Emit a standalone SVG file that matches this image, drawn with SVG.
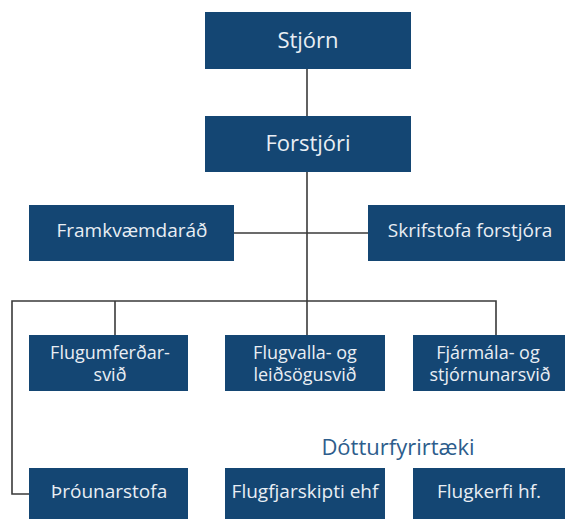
<svg xmlns="http://www.w3.org/2000/svg" width="565" height="519" viewBox="0 0 565 519">
<style>
.box{fill:#144673;}
.t{font-family:"Open Sans","Liberation Sans",sans-serif;fill:#e9eef4;text-anchor:middle;font-size:19px;}
.big{font-size:22px;}
.two{font-size:18px;}
.con{stroke:#3a3a3a;stroke-width:1.6;fill:none;}
.lbl{font-family:"Open Sans","Liberation Sans",sans-serif;fill:#2d5d8c;text-anchor:middle;font-size:22px;}
</style>
<rect width="565" height="519" fill="#ffffff"/>
<g id="connectors">
<line class="con" x1="307" y1="69" x2="307" y2="116"/>
<line class="con" x1="307" y1="172" x2="307" y2="335"/>
<line class="con" x1="233" y1="233" x2="368" y2="233"/>
<polyline class="con" points="29,494 12,494 12,301 496,301 496,335"/>
<line class="con" x1="115" y1="301" x2="115" y2="335"/>
</g>
<g id="stjorn"><rect class="box" x="205" y="12" width="206" height="57"/><text class="t big" x="308" y="48">Stjórn</text></g>
<g id="forstjori"><rect class="box" x="205" y="116" width="206" height="56"/><text class="t big" x="308" y="151">Forstjóri</text></g>
<g id="framkvaemdarad"><rect class="box" x="29" y="205" width="205" height="56"/><text class="t" x="132" y="237">Framkvæmdaráð</text></g>
<g id="skrifstofa"><rect class="box" x="368" y="205" width="200" height="56"/><text class="t" x="470" y="237">Skrifstofa forstjóra</text></g>
<g id="flugumferdarsvid"><rect class="box" x="29" y="335" width="159" height="56"/><text class="t two" x="110" y="358.5">Flugumferðar-</text><text class="t two" x="110" y="381">svið</text></g>
<g id="flugvallasvid"><rect class="box" x="225" y="335" width="160" height="56"/><text class="t two" x="305" y="358.5">Flugvalla- og</text><text class="t two" x="305" y="381">leiðsögusvið</text></g>
<g id="fjarmalasvid"><rect class="box" x="413" y="335" width="155" height="56"/><text class="t two" x="488" y="358.5">Fjármála- og</text><text class="t two" x="490" y="381">stjórnunarsvið</text></g>
<g id="dotturfyrirtaeki-label"><text class="lbl" x="398" y="455">Dótturfyrirtæki</text></g>
<g id="throunarstofa"><rect class="box" x="29" y="468" width="159" height="56"/><text class="t" x="109" y="498">Þróunarstofa</text></g>
<g id="flugfjarskipti"><rect class="box" x="225" y="468" width="160" height="56"/><text class="t" x="305" y="498">Flugfjarskipti ehf</text></g>
<g id="flugkerfi"><rect class="box" x="413" y="468" width="155" height="56"/><text class="t" x="489" y="498">Flugkerfi hf.</text></g>
</svg>
